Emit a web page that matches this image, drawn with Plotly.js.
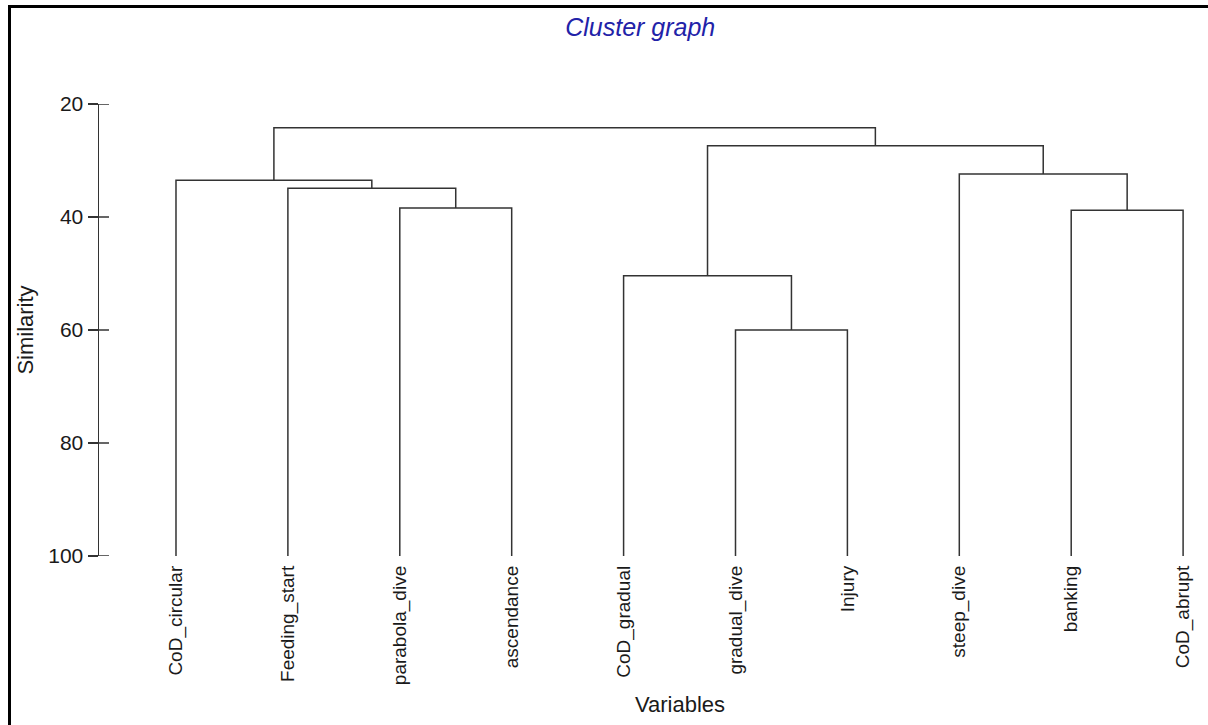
<!DOCTYPE html>
<html>
<head>
<meta charset="utf-8">
<script src="https://cdn.plot.ly/plotly-3.0.1.min.js"></script>
<style>
  html, body { margin: 0; padding: 0; background: #ffffff; }
  #wrap { position: relative; width: 1208px; height: 725px; overflow: hidden; }
  #chart { position: absolute; left: 0; top: 0; width: 1208px; height: 725px; }
  #frame { position: absolute; left: 8px; top: 5px; width: 1300px; height: 800px;
           border-left: 3px solid #000; border-top: 3px solid #000; pointer-events: none; }
</style>
</head>
<body>
<div id="wrap">
  <div id="chart"></div>
  <div id="frame"></div>
</div>
<script>
// Leaves (variables) in dendrogram order
const leaves = ['CoD_circular', 'Feeding_start', 'parabola_dive', 'ascendance', 'CoD_gradual',
                'gradual_dive', 'Injury', 'steep_dive', 'banking', 'CoD_abrupt'];
// Merge steps: node ids 0..9 are leaves, merge k creates node 10+k
const mergeLeft   = [2, 1, 0, 5, 4, 8, 7, 14, 12];
const mergeRight  = [3, 10, 11, 6, 13, 9, 15, 16, 17];
const mergeHeight = [38.4, 34.9, 33.5, 60.0, 50.4, 38.8, 32.4, 27.4, 24.2];
const leafBase = 100;
const yTicks = [20, 40, 60, 80, 100];

// Build dendrogram line segments in data coordinates
const nodeX = leaves.map((_, i) => i);
const nodeY = leaves.map(() => leafBase);
const segX = [], segY = [];
for (let k = 0; k < mergeLeft.length; k++) {
  const a = mergeLeft[k], b = mergeRight[k], h = mergeHeight[k];
  segX.push(nodeX[a], nodeX[a], nodeX[b], nodeX[b], null);
  segY.push(nodeY[a], h, h, nodeY[b], null);
  nodeX.push((nodeX[a] + nodeX[b]) / 2);
  nodeY.push(h);
}

const lineColor = '#333333';
const font = 'Liberation Sans, Arial, sans-serif';
const plotW = 1208 - 99 - 8;
const tickLen = 10;

const traces = [
  { type: 'scatter', mode: 'lines', x: segX, y: segY, xaxis: 'x', yaxis: 'y',
    line: { color: lineColor, width: 1.5 }, hoverinfo: 'skip', showlegend: false, connectgaps: false }
];

// inner halves of the crossing y ticks, placed through the y scale
const innerTicks = yTicks.map(v => ({
  type: 'line', xref: 'paper', yref: 'y', x0: 0, x1: tickLen / plotW, y0: v, y1: v,
  line: { color: lineColor, width: 1.5 }, layer: 'above'
}));

const layout = {
  width: 1208, height: 725,
  paper_bgcolor: '#ffffff', plot_bgcolor: '#ffffff',
  margin: { l: 99, r: 8, t: 104, b: 169, pad: 0 },
  showlegend: false,
  title: { text: 'Cluster graph', xref: 'container', yref: 'container', x: 0.53, y: 0.962,
           xanchor: 'center', yanchor: 'middle',
           font: { family: font, size: 25, color: '#2222a8', style: 'italic' } },
  xaxis: {
    range: [-0.688, 9.151], showgrid: false, zeroline: false, showline: false,
    tickmode: 'array', tickvals: leaves.map((_, i) => i), ticktext: leaves,
    tickangle: -90, ticks: '', ticklabelstandoff: 5,
    tickfont: { family: font, size: 19, color: '#1a1a1a' }, fixedrange: true
  },
  yaxis: {
    range: [100, 20], showgrid: false, zeroline: false,
    showline: true, linecolor: lineColor, linewidth: 1.5,
    tickmode: 'array', tickvals: yTicks, ticktext: yTicks.map(String),
    ticks: 'outside', ticklen: tickLen, tickwidth: 1.5, tickcolor: lineColor,
    tickfont: { family: font, size: 21, color: '#1a1a1a' },
    title: { text: 'Similarity', standoff: 8, font: { family: font, size: 22, color: '#1a1a1a' } },
    fixedrange: true
  },
  shapes: innerTicks,
  annotations: [
    { text: 'Variables', xref: 'x', yref: 'paper', x: (leaves.length - 1) / 2, y: -0.329,
      xanchor: 'center', yanchor: 'middle', showarrow: false,
      font: { family: font, size: 22, color: '#1a1a1a' } }
  ]
};

Plotly.newPlot('chart', traces, layout, { displayModeBar: false, staticPlot: true });
</script>
</body>
</html>
